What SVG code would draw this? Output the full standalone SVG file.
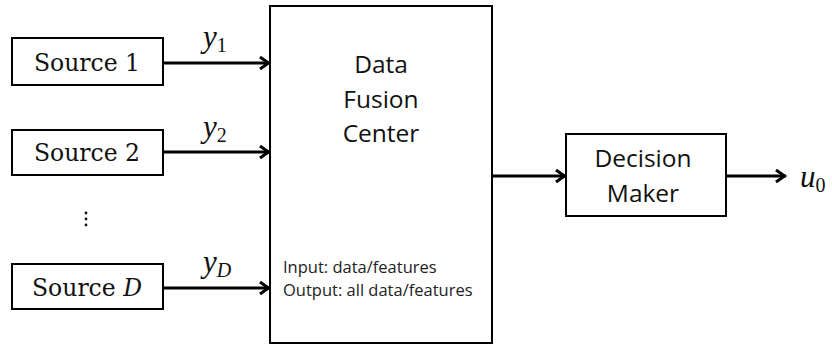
<svg xmlns="http://www.w3.org/2000/svg" width="832" height="345" viewBox="0 0 832 345">
  <style>
    .box { fill: #fff; stroke: #000; stroke-width: 2; }
    .src { font-family: "DejaVu Serif", "Liberation Serif", serif; font-size: 23.5px; fill: #111; text-anchor: middle; }
    .lbl { font-family: "Open Sans", "Noto Sans", sans-serif; font-size: 24.5px; fill: #111; text-anchor: middle; }
    .small { font-family: "Open Sans", "Noto Sans", sans-serif; font-size: 16.5px; fill: #222; }
    .math { font-family: "Liberation Serif", "DejaVu Serif", serif; font-size: 31px; font-style: italic; fill: #111; }
    .sub { font-family: "Liberation Serif", "DejaVu Serif", serif; font-size: 20px; fill: #111; }
    .wire { fill: none; stroke: #000; stroke-width: 3; marker-end: url(#ah); }
  </style>
  <defs>
    <marker id="ah" viewBox="-14 -8 16 16" refX="0" refY="0" markerWidth="16" markerHeight="16" orient="auto" markerUnits="userSpaceOnUse">
      <path d="M-10,-6 L-1.5,0 L-10,6" fill="none" stroke="#000" stroke-width="3"/>
    </marker>
  </defs>
  <rect width="832" height="345" fill="#fff"/>

  <g id="connectors">
    <line class="wire" x1="163" y1="63" x2="270" y2="63"/>
    <line class="wire" x1="163" y1="152" x2="270" y2="152"/>
    <line class="wire" x1="163" y1="288" x2="270" y2="288"/>
    <line class="wire" x1="492" y1="176" x2="566" y2="176"/>
    <line class="wire" x1="726" y1="176" x2="786" y2="176"/>
    <text class="math" x="203" y="47">y<tspan class="sub" dy="5" style="font-style:normal">1</tspan></text>
    <text class="math" x="203" y="137">y<tspan class="sub" dy="5" style="font-style:normal">2</tspan></text>
    <text class="math" x="203" y="272">y<tspan class="sub" dy="5" style="font-style:italic">D</tspan></text>
    <text class="math" x="800" y="187">u<tspan class="sub" dy="5" style="font-style:normal">0</tspan></text>
  </g>

  <g id="source1">
    <rect class="box" x="12" y="38" width="151" height="47"/>
    <text class="src" x="87" y="71">Source 1</text>
  </g>
  <g id="source2">
    <rect class="box" x="12" y="130" width="151" height="45"/>
    <text class="src" x="87" y="161">Source 2</text>
  </g>
  <g id="ellipsis">
    <circle cx="86" cy="213" r="1.4" fill="#111"/>
    <circle cx="86" cy="219" r="1.4" fill="#111"/>
    <circle cx="86" cy="225" r="1.4" fill="#111"/>
  </g>
  <g id="sourceD">
    <rect class="box" x="12" y="264" width="151" height="45"/>
    <text class="src" x="87" y="296">Source <tspan font-style="italic">D</tspan></text>
  </g>

  <g id="fusion-center">
    <rect class="box" x="270" y="6" width="222" height="337"/>
    <text class="lbl" x="381" y="73">Data</text>
    <text class="lbl" x="381" y="108">Fusion</text>
    <text class="lbl" x="381" y="142">Center</text>
    <text class="small" x="283" y="273">Input: data/features</text>
    <text class="small" x="283" y="296">Output: all data/features</text>
  </g>

  <g id="decision-maker">
    <rect class="box" x="566" y="134" width="160" height="82"/>
    <text class="lbl" x="643" y="167">Decision</text>
    <text class="lbl" x="643" y="202">Maker</text>
  </g>
</svg>
